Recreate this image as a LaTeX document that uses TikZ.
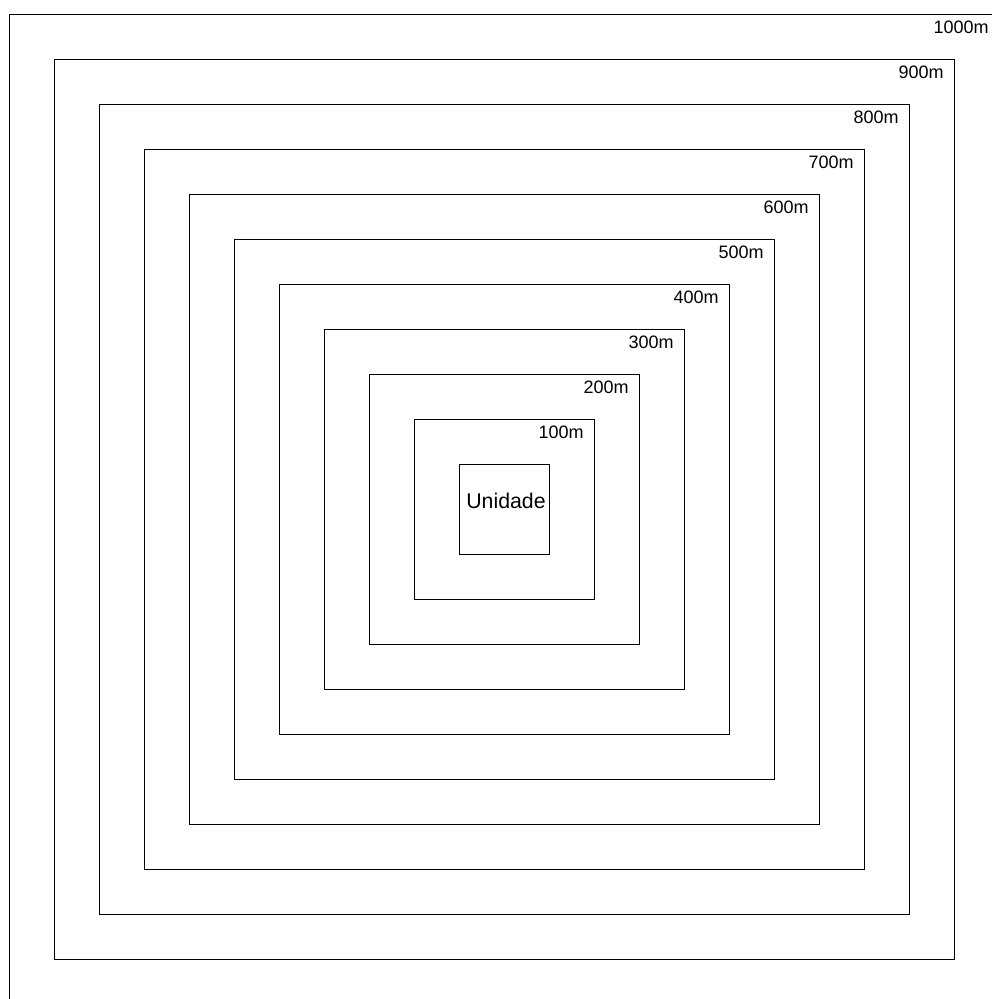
\documentclass[tikz,border=0pt]{standalone}
\usepackage{fontspec}
\setmainfont{Liberation Sans}
\begin{document}
\begin{tikzpicture}[x=1pt,y=-1pt,line width=0.9pt,
    raio/.style={anchor=base east,inner sep=0pt,font=\fontsize{18}{20}\selectfont}]
	% Moldura da figura
	\useasboundingbox (0,0) rectangle (991,999);
	
	% Unidade no centro
	\draw (459,464.5) rectangle (549,554.5);
	\node[anchor=base,inner sep=0pt,font=\fontsize{21.3}{24}\selectfont] (unidade) at (506,508) {Unidade};
	
	% Faixas de 100m em 100m
	\foreach \i in {1,...,10}{
		\pgfmathsetmacro{\h}{45*(\i+1)}
		\draw (504-\h,509.5-\h) rectangle (504+\h,509.5+\h);
		\node[raio] (r\i) at (494+\h,528-\h) {\i00m};
	}
\end{tikzpicture}
\end{document}
